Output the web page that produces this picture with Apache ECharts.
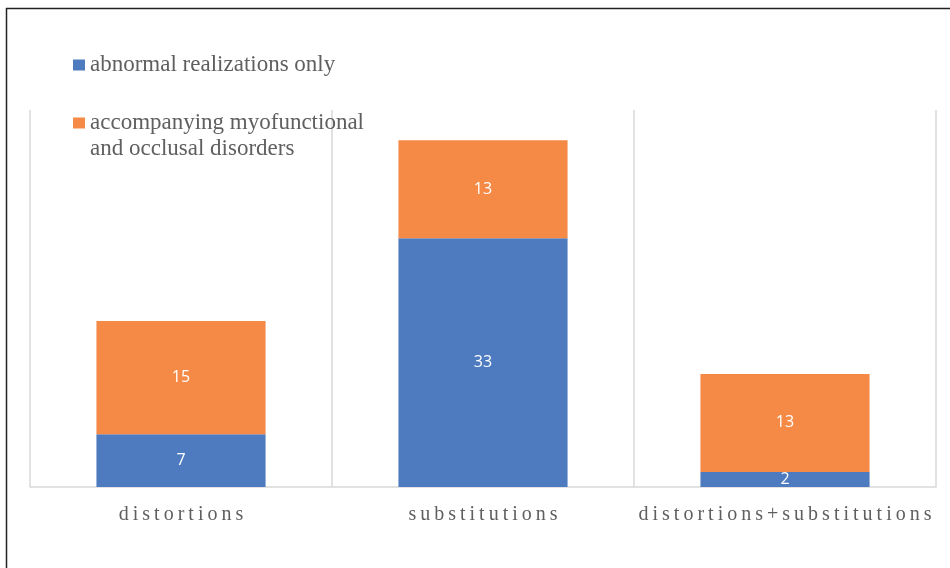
<!DOCTYPE html>
<html>
<head>
<meta charset="utf-8">
<script src="https://cdn.jsdelivr.net/npm/echarts@6/dist/echarts.min.js"></script>
<style>
  html, body { margin: 0; padding: 0; background: #fff; }
  #main { width: 950px; height: 568px; }
</style>
</head>
<body>
<div id="main"></div>
<script>
// categories and series values
const categories = ['distortions', 'substitutions', 'distortions+substitutions']
const abnormalOnly = [7, 33, 2]
const accompanying = [15, 13, 13]
const seriesNames = ['abnormal realizations only', 'accompanying myofunctional\nand occlusal disorders']

const BLUE = '#4e7bbf'
const ORANGE = '#f58a47'
const GRAY_TEXT = '#5f5f5f'
const LINE = '#d9d9d9'

const chart = echarts.init(document.getElementById('main'))

// spread letters a bit, the original axis text is letter-spaced
const spread = (s) => s.split('').join('\u2009')

const labelStyle = {
  show: true,
  position: 'inside',
  color: '#fff',
  fontFamily: 'Open Sans',
  fontSize: 16
}

const legendText = {
  fontFamily: 'Liberation Serif',
  fontSize: 23,
  lineHeight: 26,
  color: GRAY_TEXT
}

const option = {
  animation: false,
  backgroundColor: '#fff',
  graphic: [{
    type: 'rect',
    shape: { x: 6.5, y: 8.5, width: 960, height: 620 },
    style: { fill: 'none', stroke: '#222', lineWidth: 1.5 },
    silent: true
  }],
  legend: [{
    data: [seriesNames[0]],
    left: 73,
    top: 52,
    padding: 0,
    icon: 'rect',
    itemWidth: 12,
    itemHeight: 11,
    textStyle: legendText
  }, {
    data: [seriesNames[1]],
    left: 73,
    top: 84,
    padding: 0,
    icon: 'rect',
    itemWidth: 12,
    itemHeight: 11,
    // empty first line so the square sits beside the first text line
    formatter: (name) => '\n' + name,
    textStyle: legendText
  }],
  grid: { left: 30, right: 14, top: 110, bottom: 81 },
  xAxis: {
    type: 'category',
    data: categories,
    axisLine: { lineStyle: { color: LINE, width: 1.5 } },
    axisTick: { show: false },
    splitLine: { show: true, lineStyle: { color: LINE, width: 1.5 } },
    axisLabel: {
      interval: 0,
      margin: 18,
      fontFamily: 'Liberation Serif',
      fontSize: 20,
      color: GRAY_TEXT,
      formatter: spread
    }
  },
  yAxis: {
    type: 'value',
    min: 0,
    max: 50,
    show: false,
    splitLine: { show: false }
  },
  series: [{
    name: seriesNames[0],
    type: 'bar',
    stack: 'total',
    barWidth: '56%',
    data: abnormalOnly,
    itemStyle: { color: BLUE },
    label: labelStyle
  }, {
    name: seriesNames[1],
    type: 'bar',
    stack: 'total',
    barWidth: '56%',
    data: accompanying,
    itemStyle: { color: ORANGE },
    label: labelStyle
  }]
}

chart.setOption(option)
window.addEventListener('resize', () => chart.resize())
</script>
</body>
</html>
